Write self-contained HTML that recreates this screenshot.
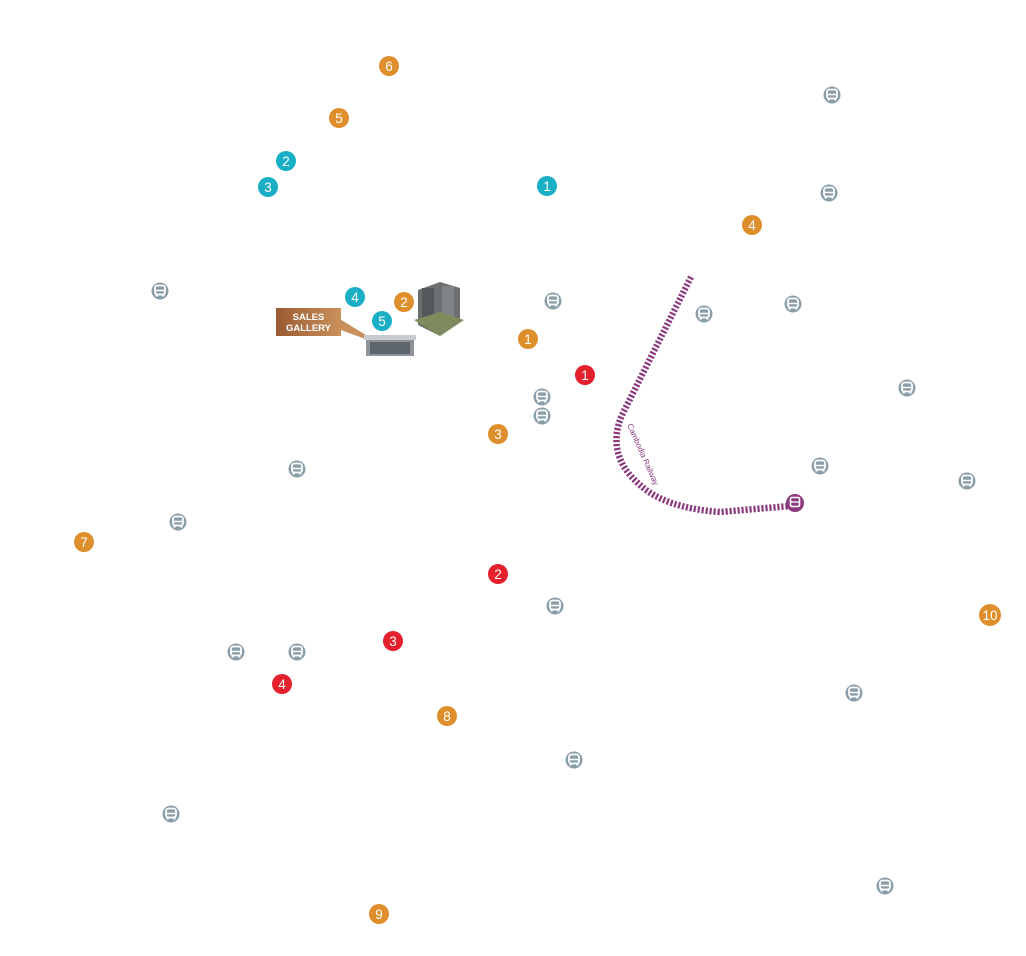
<!DOCTYPE html>
<html><head><meta charset="utf-8"><style>
html,body{margin:0;padding:0;background:#fff;}
svg{display:block;}
text{font-family:"Liberation Sans",sans-serif;}
</style></head><body>
<svg width="1026" height="956" viewBox="0 0 1026 956" xmlns="http://www.w3.org/2000/svg">
<defs>
<linearGradient id="br" x1="0" x2="1"><stop offset="0" stop-color="#9a5a32"/><stop offset="1" stop-color="#c9905c"/></linearGradient>
<g id="bus">
<circle r="8.5" fill="#8a9ea9"/>
<rect x="-5" y="-5.5" width="10" height="9" rx="2.5" fill="none" stroke="#fff" stroke-width="1.8"/>
<line x1="-5" y1="-0.5" x2="5" y2="-0.5" stroke="#fff" stroke-width="1.5"/>
<rect x="-4.5" y="3" width="2.2" height="2.5" fill="#fff"/><rect x="2.3" y="3" width="2.2" height="2.5" fill="#fff"/>
</g>
</defs>
<!-- railway -->
<path d="M691,277 L622,415 Q605,455 640,485 Q665,508 720,512 L790,506" fill="none" stroke="#8b3a7e" stroke-width="6.5" stroke-dasharray="2.2 1.8"/>
<text transform="translate(627,425) rotate(66)" font-size="8" fill="#8b3a7e">Cambodia Railway</text>
<circle cx="795" cy="503" r="9" fill="#8b3a7e"/>
<rect x="790.5" y="497.5" width="9" height="9" rx="1.5" fill="none" stroke="#fff" stroke-width="1.6"/>
<line x1="790.5" y1="502" x2="799.5" y2="502" stroke="#fff" stroke-width="1.3"/>
<!-- buses -->
<g>
<use href="#bus" x="832" y="95"/><use href="#bus" x="829" y="193"/><use href="#bus" x="160" y="291"/>
<use href="#bus" x="553" y="301"/><use href="#bus" x="704" y="314"/><use href="#bus" x="793" y="304"/>
<use href="#bus" x="907" y="388"/><use href="#bus" x="542" y="397"/><use href="#bus" x="542" y="416"/>
<use href="#bus" x="297" y="469"/><use href="#bus" x="820" y="466"/><use href="#bus" x="967" y="481"/>
<use href="#bus" x="178" y="522"/><use href="#bus" x="555" y="606"/><use href="#bus" x="236" y="652"/>
<use href="#bus" x="297" y="652"/><use href="#bus" x="854" y="693"/><use href="#bus" x="574" y="760"/>
<use href="#bus" x="171" y="814"/><use href="#bus" x="885" y="886"/>
</g>
<!-- buildings -->
<polygon points="338,318 341,330 384,346" fill="#c9905c"/>
<rect x="276" y="308" width="65" height="28" fill="url(#br)"/>
<text x="308.5" y="320" font-size="9.5" font-weight="bold" fill="#fff" text-anchor="middle">SALES</text>
<text x="308.5" y="331" font-size="9.5" font-weight="bold" fill="#fff" text-anchor="middle">GALLERY</text>
<rect x="366" y="338" width="48" height="18" fill="#8e9499"/>
<rect x="364" y="335" width="52" height="5" fill="#c8ccd0"/>
<rect x="370" y="342" width="40" height="12" fill="#5e656b"/>
<polygon points="418,290 440,282 460,288 460,322 440,336 418,325" fill="#6c6f70"/>
<rect x="422" y="288" width="12" height="32" fill="#55585a"/><rect x="442" y="286" width="12" height="34" fill="#808385"/>
<polygon points="414,320 440,336 464,320 440,312" fill="#7f8a5e"/>
<!-- markers -->
<g font-size="13.5" fill="#fff" text-anchor="middle">
<g fill="#de8f2c">
<circle cx="389" cy="66" r="10"/><circle cx="339" cy="118" r="10"/><circle cx="752" cy="225" r="10"/>
<circle cx="404" cy="302" r="10"/><circle cx="528" cy="339" r="10"/><circle cx="498" cy="434" r="10"/>
<circle cx="84" cy="542" r="10"/><circle cx="447" cy="716" r="10"/><circle cx="379" cy="914" r="10"/>
<circle cx="990" cy="615" r="11"/>
</g>
<g fill="#1bafc5">
<circle cx="286" cy="161" r="10"/><circle cx="268" cy="187" r="10"/><circle cx="547" cy="186" r="10"/>
<circle cx="355" cy="297" r="10"/><circle cx="382" cy="321" r="10"/>
</g>
<g fill="#e3202b">
<circle cx="585" cy="375" r="10"/><circle cx="498" cy="574" r="10"/><circle cx="393" cy="641" r="10"/>
<circle cx="282" cy="684" r="10"/>
</g>
<text x="389" y="71">6</text><text x="339" y="123">5</text><text x="752" y="230">4</text>
<text x="404" y="307">2</text><text x="528" y="344">1</text><text x="498" y="439">3</text>
<text x="84" y="547">7</text><text x="447" y="721">8</text><text x="379" y="919">9</text>
<text x="990" y="620">10</text>
<text x="286" y="166">2</text><text x="268" y="192">3</text><text x="547" y="191">1</text>
<text x="355" y="302">4</text><text x="382" y="326">5</text>
<text x="585" y="380">1</text><text x="498" y="579">2</text><text x="393" y="646">3</text><text x="282" y="689">4</text>
</g>
</svg>
</body></html>
